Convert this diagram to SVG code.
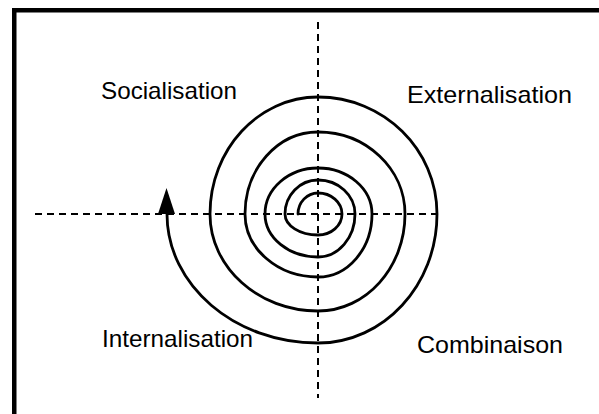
<svg xmlns="http://www.w3.org/2000/svg" width="599" height="414" viewBox="0 0 599 414">
<style>
.lbl{font-family:"Liberation Sans",Arial,sans-serif;font-size:24px;fill:#000}
.axis{stroke:#000;stroke-width:2;stroke-dasharray:7 5;fill:none}
.spiral{stroke:#000;stroke-width:2.8;fill:none;stroke-linecap:round}
</style>
<rect width="599" height="414" fill="#fff"/>
<rect x="14.25" y="10.25" width="620" height="440" fill="none" stroke="#000" stroke-width="4.5"/>
<g id="axes">
<line class="axis" x1="35" y1="214" x2="440" y2="214"/>
<line class="axis" x1="318" y1="22" x2="318" y2="398"/>
</g>
<g id="spiral">
<path class="spiral" d="M298,214 C298,202.4 307,193 318,193 C331.2,193 342,202.4 342,214 C342,225.6 331.2,235 318,235 C299.8,235 285,225.6 285,214 C285,195.2 299.8,180 318,180 C338.4,180 355,195.2 355,214 C355,237.7 338.4,257 318,257 C288.7,257 265,237.7 265,214 C265,188.6 288.7,168 318,168 C347.8,168 372,188.6 372,214 C372,248.8 347.8,277 318,277 C277.7,277 245,248.8 245,214 C245,168.7 277.7,132 318,132 C366,132 405,168.7 405,214 C405,267.5 366,311 318,311 C258.4,311 210,267.5 210,214 C210,149.4 258.4,97 318,97 C383.7,97 437,149.4 437,214 C437,285.2 383.7,343 318,343 C234.6,343 167,285.2 167,214"/>
<polygon points="166.5,188 158,214 175,214" fill="#000"/>
</g>
<g id="socialisation"><text class="lbl" x="101" y="99" textLength="136" lengthAdjust="spacingAndGlyphs">Socialisation</text></g>
<g id="externalisation"><text class="lbl" x="407" y="103" textLength="165" lengthAdjust="spacingAndGlyphs">Externalisation</text></g>
<g id="internalisation"><text class="lbl" x="102" y="347" textLength="151" lengthAdjust="spacingAndGlyphs">Internalisation</text></g>
<g id="combinaison"><text class="lbl" x="417" y="353" textLength="146" lengthAdjust="spacingAndGlyphs">Combinaison</text></g>
</svg>
